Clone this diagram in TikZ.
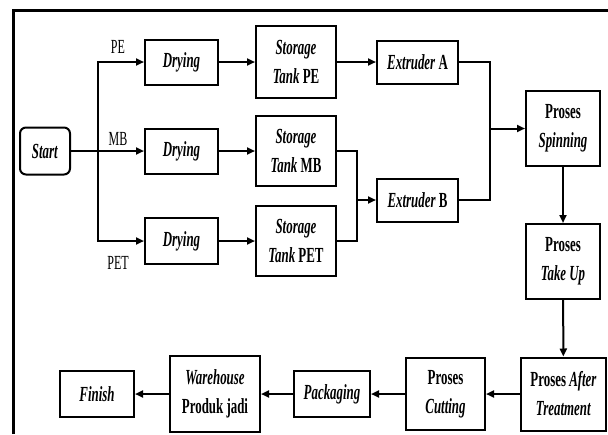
\documentclass[tikz,border=0pt]{standalone}
\usepackage{fontspec}
\setmainfont{Liberation Serif}[FakeStretch=0.6]
\usetikzlibrary{arrows.meta}
\newdimen\unit
\tikzset{unit/.code={\unit=\dimexpr#1\relax}}
\tikzset{xy/.style={x={#1},y={-#1},unit={#1},font={\bfseries\fontsize{21.5\unit}{29\unit}\selectfont},line width=2\unit}}
\tikzset{box/.style 2 args={draw,align=center,inner sep=0pt,minimum width=#1\unit,minimum height=#2\unit}}
\tikzset{arr/.style={-{Triangle[length=8pt,width=7pt]}}}
\tikzset{lbl/.style={font={\mdseries\fontsize{20\unit}{22\unit}\selectfont}}}

\begin{document}
\begin{tikzpicture}[xy=1pt]%
    \path [use as bounding box] (0,0) rectangle (608,434);
    \path [draw, line width=3\unit] (13,434) -- (13,10) -- (608,10);
    \node [box={50}{47}, rounded corners=6\unit] (start) at (45,151) {\textit{Start}};
    \node [box={73}{45}] (dryA) at (181.5,62) {\textit{Drying}};
    \node [box={73}{45}] (dryB) at (181.5,151) {\textit{Drying}};
    \node [box={73}{46}] (dryC) at (181.5,241) {\textit{Drying}};
    \node [box={80}{72}] (stoA) at (296,62) {\textit{Storage}\\\textit{Tank} PE};
    \node [box={80}{70}] (stoB) at (296,151) {\textit{Storage}\\\textit{Tank} MB};
    \node [box={80}{70}] (stoC) at (296,241) {\textit{Storage}\\\textit{Tank} PET};
    \node [box={81}{43}] (extA) at (417.5,62) {\textit{Extruder} A};
    \node [box={81}{43}] (extB) at (417.5,200) {\textit{Extruder} B};
    \node [box={74}{75}] (spin) at (563,128.5) {Proses\\\textit{Spinning}};
    \node [box={74}{75}] (takeup) at (563,261.5) {Proses\\\textit{Take Up}};
    \node [box={85}{73}] (after) at (563.5,394) {Proses \textit{After}\\\textit{Treatment}};
    \node [box={79}{72}] (cut) at (445.5,394) {Proses\\\textit{Cutting}};
    \node [box={76}{46}] (pack) at (332,394) {\textit{Packaging}};
    \node [box={90}{76}] (ware) at (215,394) {\textit{Warehouse}\\Produk jadi};
    \node [box={74}{46}] (finish) at (97,394) {\textit{Finish}};
    \node [lbl] (pe) at (118,47) {PE};
    \node [lbl] (mb) at (118,139) {MB};
    \node [lbl] (pet) at (118,263) {PET};
    \coordinate (split) at (98,151);
    \coordinate (mergeB) at (357,200);
    \coordinate (joinS) at (490,128.5);
    \path [draw, arr] (start) -- (dryB);
    \path [draw, arr] (split) |- (dryA);
    \path [draw, arr] (split) |- (dryC);
    \foreach \a/\b in {dryA/stoA, dryB/stoB, dryC/stoC, stoA/extA, spin/takeup, takeup/after, after/cut, cut/pack, pack/ware, ware/finish} {
        \path [draw, arr] (\a) -- (\b);
    }
    \path [draw] (stoB) -| (mergeB) |- (stoC);
    \path [draw, arr] (mergeB) -- (extB);
    \path [draw] (extA) -| (joinS) |- (extB);
    \path [draw, arr] (joinS) -- (spin);
\end{tikzpicture}
\end{document}
